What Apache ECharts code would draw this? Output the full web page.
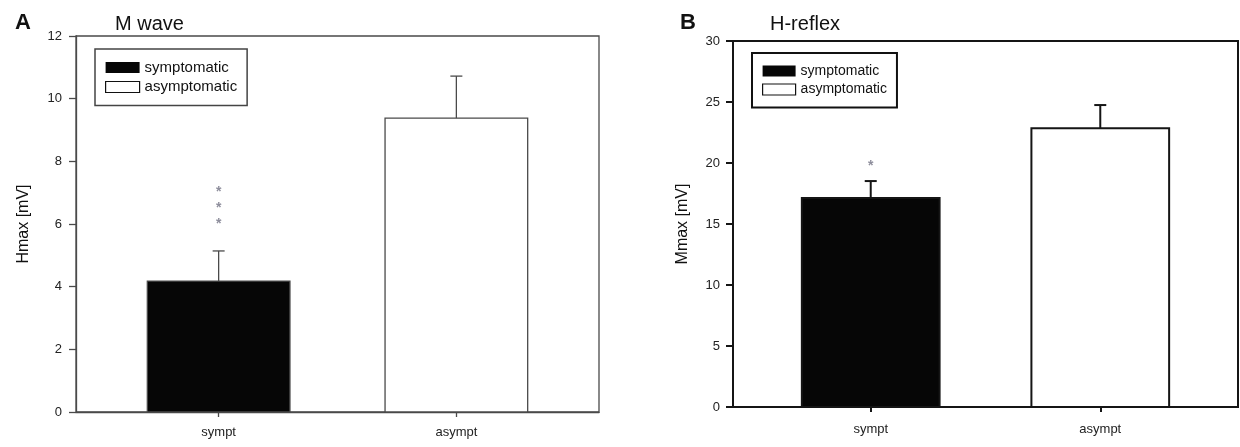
<!DOCTYPE html>
<html>
<head>
<meta charset="utf-8">
<script src="https://cdn.jsdelivr.net/npm/echarts@6/dist/echarts.min.js"></script>
<style>
  html, body { margin: 0; padding: 0; background: #fff; }
  #chart { width: 1240px; height: 447px; }
</style>
</head>
<body>
<div id="chart"></div>
<script>
const categories = ['sympt', 'asympt']
const seriesNames = ['symptomatic', 'asymptomatic']

// panel A: M wave
const mWaveMean = [4.18, 9.38]
const mWaveErr = [0.96, 1.34]
const mWaveStars = [7.15, 6.64, 6.13]

// panel B: H-reflex
const hReflexMean = [17.13, 22.84]
const hReflexErr = [1.39, 1.91]
const hReflexStars = [20.08]

const FONT = 'Arial, "Liberation Sans", sans-serif'
const BAR_HALF = 0.3

function makeSeries(gi, means, errs, stars, lc, lw) {
  const out = []
  means.forEach((m, i) => {
    out.push({
      name: seriesNames[i],
      type: 'custom',
      xAxisIndex: gi,
      yAxisIndex: gi,
      itemStyle: { color: i === 0 ? '#060606' : '#ffffff' },
      data: [[i + 1, m]],
      renderItem: (params, api) => {
        const x = api.value(0)
        const p1 = api.coord([x - BAR_HALF, api.value(1)])
        const p2 = api.coord([x + BAR_HALF, 0])
        return {
          type: 'rect',
          shape: { x: p1[0], y: p1[1], width: p2[0] - p1[0], height: p2[1] - p1[1] },
          style: { fill: api.visual('color'), stroke: lc, lineWidth: lw }
        }
      }
    })
  })
  // error bars, upward only
  out.push({
    type: 'custom',
    xAxisIndex: gi,
    yAxisIndex: gi,
    z: 3,
    data: means.map((m, i) => [i + 1, m, m + errs[i]]),
    renderItem: (params, api) => {
      const lo = api.coord([api.value(0), api.value(1)])
      const hi = api.coord([api.value(0), api.value(2)])
      const st = { stroke: lc, lineWidth: lw }
      return {
        type: 'group',
        children: [
          { type: 'line', shape: { x1: lo[0], y1: lo[1], x2: hi[0], y2: hi[1] }, style: st },
          { type: 'line', shape: { x1: hi[0] - 6, y1: hi[1], x2: hi[0] + 6, y2: hi[1] }, style: st }
        ]
      }
    }
  })
  // significance asterisks over sympt
  out.push({
    type: 'custom',
    xAxisIndex: gi,
    yAxisIndex: gi,
    z: 3,
    data: stars.map((s) => [1, s]),
    renderItem: (params, api) => {
      const p = api.coord([api.value(0), api.value(1)])
      return {
        type: 'text',
        x: p[0],
        y: p[1] + 4,
        style: {
          text: '*',
          fill: '#8e8e9c',
          font: 'bold 14px ' + FONT,
          align: 'center',
          verticalAlign: 'middle'
        }
      }
    }
  })
  return out
}

function makeXAxis(gi, lc, lw, margin) {
  return {
    type: 'value',
    gridIndex: gi,
    min: 0.4,
    max: 2.6,
    axisLine: { lineStyle: { color: lc, width: lw } },
    axisTick: { customValues: [1, 2], length: 5, lineStyle: { color: lc, width: lw } },
    axisLabel: {
      customValues: [1, 2],
      formatter: (v) => categories[Math.round(v) - 1],
      color: '#222',
      fontFamily: FONT,
      fontSize: 13,
      margin
    },
    splitLine: { show: false }
  }
}

function makeYAxis(gi, max, interval, name, gap, lc, lw, margin) {
  return {
    type: 'value',
    gridIndex: gi,
    min: 0,
    max,
    interval,
    name,
    nameLocation: 'middle',
    nameRotate: 90,
    nameGap: gap,
    nameTextStyle: { color: '#111', fontFamily: FONT, fontSize: 16 },
    axisLine: { show: true, lineStyle: { color: lc, width: lw } },
    axisTick: { show: true, length: 7, lineStyle: { color: lc, width: lw } },
    axisLabel: { color: '#222', fontFamily: FONT, fontSize: 13, margin },
    splitLine: { show: false }
  }
}

function makeLegend(left, top, lc, lw, fs, pad, iw) {
  return {
    orient: 'vertical',
    left,
    top,
    padding: pad,
    itemGap: 4.5,
    itemWidth: iw,
    itemHeight: 11,
    borderColor: lc,
    borderWidth: lw,
    selectedMode: false,
    textStyle: { color: '#111', fontFamily: FONT, fontSize: fs },
    data: [
      { name: seriesNames[0], icon: 'rect', itemStyle: { color: '#060606' } },
      { name: seriesNames[1], icon: 'rect', itemStyle: { color: '#fff', borderColor: '#111', borderWidth: 1.2 } }
    ]
  }
}

const leftLine = '#4a4a4a'
const rightLine = '#151515'

const option = {
  animation: false,
  backgroundColor: '#fff',
  title: [
    { text: 'A', left: 10, top: 7, textStyle: { fontFamily: FONT, fontSize: 22, fontWeight: 'bold', color: '#111' } },
    { text: 'M wave', left: 110, top: 9, textStyle: { fontFamily: FONT, fontSize: 20, fontWeight: 'normal', color: '#111' } },
    { text: 'B', left: 675, top: 7, textStyle: { fontFamily: FONT, fontSize: 22, fontWeight: 'bold', color: '#111' } },
    { text: 'H-reflex', left: 765, top: 9, textStyle: { fontFamily: FONT, fontSize: 20, fontWeight: 'normal', color: '#111' } }
  ],
  legend: [
    makeLegend(95, 49, '#444', 1.5, 15, [11, 10, 11, 10], 34),
    makeLegend(752, 53, '#111', 2, 14, [11, 10, 11, 10], 33)
  ],
  grid: [
    { left: 76, top: 36, width: 523, height: 376, show: true, borderColor: leftLine, borderWidth: 1.3 },
    { left: 733, top: 41, width: 505, height: 366, show: true, borderColor: rightLine, borderWidth: 2 }
  ],
  xAxis: [
    makeXAxis(0, leftLine, 1.3, 14),
    makeXAxis(1, rightLine, 2, 16)
  ],
  yAxis: [
    makeYAxis(0, 12, 2, 'Hmax [mV]', 44, leftLine, 1.3, 14),
    makeYAxis(1, 30, 5, 'Mmax [mV]', 42, rightLine, 2, 13)
  ],
  series: [
    ...makeSeries(0, mWaveMean, mWaveErr, mWaveStars, leftLine, 1.3),
    ...makeSeries(1, hReflexMean, hReflexErr, hReflexStars, rightLine, 2)
  ]
}

const myChart = echarts.init(document.getElementById('chart'))
myChart.setOption(option)
window.addEventListener('resize', () => {
  myChart.resize()
})
</script>
</body>
</html>
